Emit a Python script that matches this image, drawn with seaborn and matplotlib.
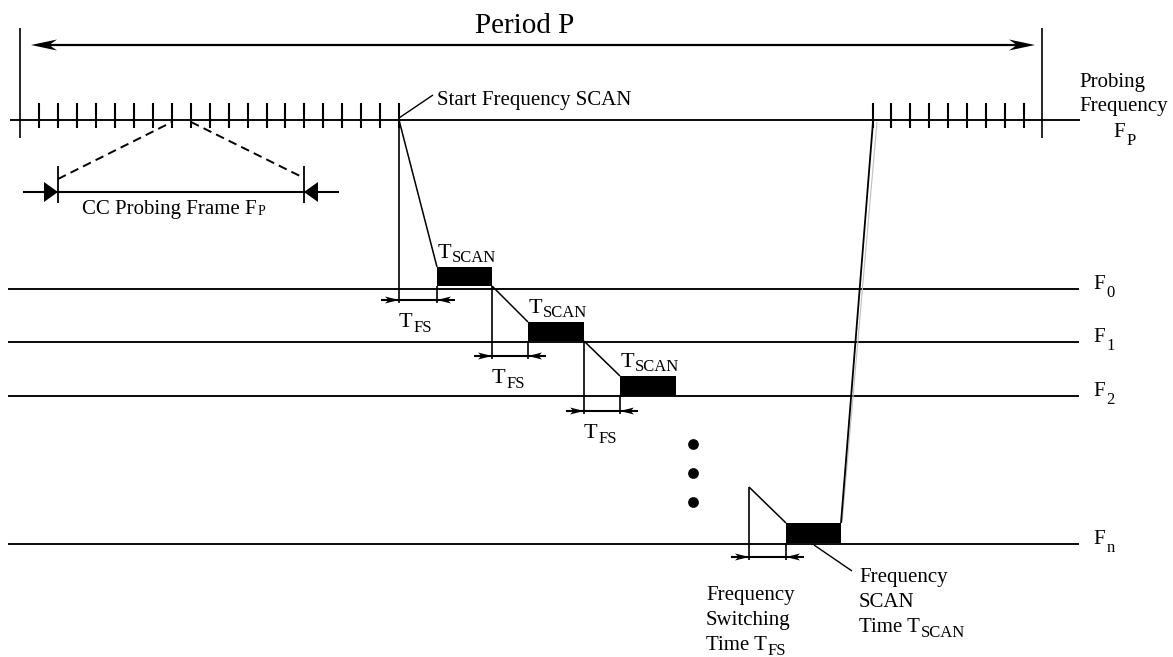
import matplotlib
matplotlib.use('Agg')
import matplotlib.pyplot as plt
import seaborn as sns
from matplotlib.patches import Rectangle, Polygon

# ---------------- data (diagram geometry, pixel units) ----------------
W, H = 1173, 657
probe_y = 120
probe_line_x = [10, 1080]
ticks_left = [39, 58, 77, 96, 115, 134, 153, 172, 191, 210, 229, 248, 267,
              285, 304, 323, 342, 361, 380, 399]
ticks_right = [873, 891, 910, 929, 948, 967, 986, 1005, 1024]
period_bounds = [20, 1042]
period_arrow_y = 45

freq_y = [289, 342, 396, 544]
freq_sub = ['0', '1', '2', 'n']
freq_line_x = [8, 1079]

step_x = [399, 492, 584, 749]          # frequency switch start
step_vtop = [103, 286, 341, 487]       # top of vertical marker
step_y = [120, 286, 341, 487]          # start of switching slope
scan_x0 = [437, 528, 620, 786]
scan_x1 = [492, 584, 676, 841]
scan_top = [267, 322, 376, 523]
scan_bot = [286, 341, 396, 543]
fs_arrow_y = [300, 356, 411, 557]

dots_x = [693, 693, 693]
dots_y = [444, 473, 502]

frame_x = [58, 304]
frame_y = 192
frame_line_x = [23, 339]

# ---------------- figure ----------------
sns.set_theme(style='white')
plt.rcParams['font.family'] = ['Liberation Serif', 'DejaVu Serif']
plt.rcParams['text.color'] = 'black'

fig = plt.figure(figsize=(W / 100, H / 100), dpi=100)
ax = fig.add_axes([0, 0, 1, 1])
ax.set_xlim(0, W)
ax.set_ylim(H, 0)
ax.axis('off')
renderer = fig.canvas.get_renderer()

LW = 1.35
K = 'black'


def line(xs, ys, lw=LW, **kw):
    ax.plot(xs, ys, color=kw.pop('color', K), lw=lw, solid_capstyle='butt', **kw)


def head(tx, ty, d, length, hw, notch=0.0):
    pts = [(tx, ty), (tx - d * length, ty - hw),
           (tx - d * length * (1 - notch), ty), (tx - d * length, ty + hw)]
    ax.add_patch(Polygon(pts, closed=True, color=K, lw=0))


def sub_text(x, y, main, sub, size=15, subsize=12, dy=5, gap=0.5):
    t = ax.text(x, y, main, fontsize=size, ha='left', va='baseline', color=K)
    bb = t.get_window_extent(renderer)
    x1 = ax.transData.inverted().transform((bb.x1, bb.y0))[0]
    ax.text(x1 + gap, y + dy, sub, fontsize=subsize, ha='left', va='baseline', color=K)


# Period P
for xb in period_bounds:
    line([xb, xb], [28, 138], lw=1.2)
line([40, 1025], [period_arrow_y, period_arrow_y], lw=1.6)
head(31, period_arrow_y, -1, 26, 5.5, 0.3)
head(1035, period_arrow_y, 1, 26, 5.5, 0.3)
ax.text(525, 33, 'Period P', fontsize=21, ha='center', va='baseline', color=K)

# probing frequency line and frames
line(probe_line_x, [probe_y, probe_y])
for tx in ticks_left + ticks_right:
    line([tx, tx], [103, 128], lw=1.5)
ax.text(1079, 87, 'Probing', fontsize=15, ha='left', va='baseline')
ax.text(1079, 111, 'Frequency', fontsize=15, ha='left', va='baseline')
sub_text(1113, 137, 'F', 'P', size=15, subsize=12, dy=8, gap=2)

# CC probing frame zoom
line([frame_x[0], 172], [179, 122], ls=(0, (4.5, 2.7)), lw=1.4)
line([191, frame_x[1]], [122, 178], ls=(0, (4.5, 2.7)), lw=1.4)
line(frame_line_x, [frame_y, frame_y], lw=1.5)
for fx in frame_x:
    line([fx, fx], [166, 203], lw=1.3)
head(frame_x[0], frame_y, 1, 14, 10)
head(frame_x[1], frame_y, -1, 14, 10)
sub_text(82, 214, 'CC Probing Frame F', 'P', size=15, subsize=10, dy=1, gap=1)

# start frequency scan label
line([399, 433], [118, 95], lw=1.0)
ax.text(437, 105, 'Start Frequency SCAN', fontsize=15, ha='left', va='baseline')

# frequency level lines
for fy, fs in zip(freq_y, freq_sub):
    line(freq_line_x, [fy, fy])
    sub_text(1093, fy, 'F', fs, size=15, subsize=12, dy=8, gap=2)

# switching steps and scan blocks
for i in range(len(step_x)):
    xs, xr = step_x[i], scan_x0[i]
    ay = fs_arrow_y[i]
    line([xs, xs], [step_vtop[i], ay + 3], lw=1.2)
    line([xs, xr], [step_y[i], scan_top[i]], lw=1.1)
    line([xr, xr], [scan_bot[i], ay + 3], lw=1.2)
    ax.add_patch(Rectangle((scan_x0[i], scan_top[i]), scan_x1[i] - scan_x0[i],
                           scan_bot[i] - scan_top[i], color=K, lw=0))
    line([xs - 18, xr + 18], [ay, ay], lw=1.5)
    head(xs, ay, 1, 14, 3.5, 0.25)
    head(xr, ay, -1, 14, 3.5, 0.25)
    if i < 3:
        sub_text(scan_x0[i] + 1, scan_top[i] - 9, 'T', 'SCAN', size=16, subsize=12, dy=4)
        sub_text(xs, ay + 27, 'T', 'FS', size=16, subsize=12, dy=5)

# return to probing frequency
line([scan_x1[-1] + 1, ticks_right[0] + 4], [scan_top[-1], probe_y + 2], lw=0.8, color='#c0c0c0')
line([scan_x1[-1], ticks_right[0]], [scan_top[-1], probe_y + 2], lw=1.3)

# ellipsis dots
sns.scatterplot(x=dots_x, y=dots_y, s=60, color=K, edgecolor=K, linewidth=0, ax=ax, legend=False)

# bottom annotations
ax.text(706, 600, 'Frequency', fontsize=15, ha='left', va='baseline')
ax.text(706, 625, 'Switching', fontsize=15, ha='left', va='baseline')
sub_text(706, 650, 'Time T', 'FS', size=15, subsize=12, dy=5)

line([814, 852], [545, 571], lw=1.0)
ax.text(859, 582, 'Frequency', fontsize=15, ha='left', va='baseline')
ax.text(859, 607, 'SCAN', fontsize=15, ha='left', va='baseline')
sub_text(859, 632, 'Time T', 'SCAN', size=15, subsize=12, dy=5)

fig.savefig('out.png', dpi=100, facecolor='white')
